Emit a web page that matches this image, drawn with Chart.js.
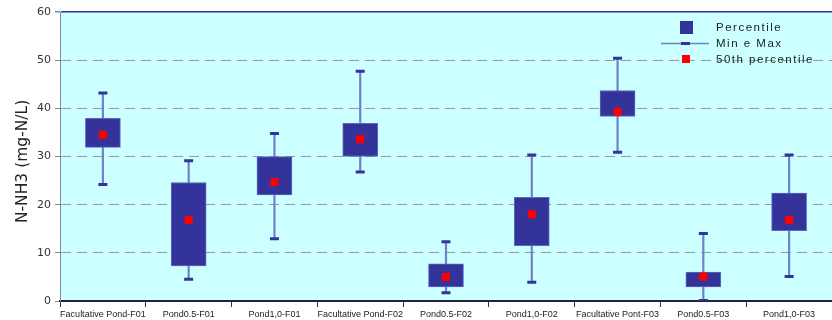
<!DOCTYPE html>
<html>
<head>
<meta charset="utf-8">
<script src="https://cdn.jsdelivr.net/npm/chart.js@4/dist/chart.umd.min.js"></script>
<style>
  html, body { margin: 0; padding: 0; background: #fff; }
  #wrap { width: 832px; height: 320px; }
</style>
</head>
<body>
<div id="wrap"><canvas id="chart"></canvas></div>
<script>
// categorie e valori
const categories = [
  'Facultative Pond-F01', 'Pond0.5-F01', 'Pond1,0-F01',
  'Facultative Pond-F02', 'Pond0.5-F02', 'Pond1,0-F02',
  'Facultative Pont-F03', 'Pond0.5-F03', 'Pond1,0-F03'
]
const minValues = [24.2, 4.5, 12.9, 26.8, 1.7, 3.9, 30.9, 0.1, 5.1]
const q1Values  = [31.9, 7.3, 22.0, 30.0, 2.9, 11.5, 38.3, 2.9, 14.6]
const medValues = [34.5, 16.8, 24.7, 33.6, 5.0, 18.0, 39.3, 5.1, 16.8]
const q3Values  = [37.9, 24.6, 30.0, 36.9, 7.7, 21.5, 43.7, 6.0, 22.4]
const maxValues = [43.2, 29.1, 34.8, 47.7, 12.3, 30.3, 50.4, 14.0, 30.3]
const yTicks = [0, 10, 20, 30, 40, 50, 60]

const BOX = '#333399'
const WHISK = '#6f80c8'
const MED = '#ff0000'

// sfondo azzurro dell'area del grafico
const plotBg = {
  id: 'plotBg',
  beforeDraw(chart) {
    const { ctx, chartArea: a } = chart
    ctx.save()
    ctx.fillStyle = '#ccffff'
    ctx.fillRect(a.left, a.top, a.right - a.left, a.bottom - a.top)
    ctx.restore()
  }
}

// legenda dentro l'area del grafico, in alto a destra
const boxLegend = {
  id: 'boxLegend',
  afterDraw(chart) {
    const { ctx } = chart
    ctx.save()
    ctx.fillStyle = BOX
    ctx.fillRect(680, 21, 13, 13)
    ctx.strokeStyle = WHISK
    ctx.lineWidth = 1.5
    ctx.beginPath(); ctx.moveTo(661, 43.5); ctx.lineTo(709, 43.5); ctx.stroke()
    ctx.fillStyle = BOX
    ctx.fillRect(681, 42, 9, 3)
    ctx.fillStyle = MED
    ctx.fillRect(682, 55, 8, 8)
    ctx.fillStyle = '#222'
    ctx.font = '11.5px "Liberation Sans"'
    ctx.letterSpacing = '1.5px'
    ctx.textBaseline = 'middle'
    ctx.fillText('Percentile', 716, 28)
    ctx.fillText('Min e Max', 716, 44)
    ctx.fillText('50th percentile', 716, 60)
    ctx.restore()
  }
}

new Chart(document.getElementById('chart'), {
  type: 'bar',
  data: {
    labels: categories,
    datasets: [
      {
        label: 'Median',
        type: 'line',
        data: medValues,
        showLine: false,
        pointStyle: 'rect',
        pointRadius: 5.7,
        pointBorderWidth: 0,
        pointBackgroundColor: MED,
        pointBorderColor: MED,
        order: 1
      },
      {
        label: 'Percentile',
        data: q1Values.map((v, i) => [v, q3Values[i]]),
        backgroundColor: BOX,
        borderColor: '#5a68c4',
        borderWidth: 1,
        borderSkipped: false,
        barThickness: 35,
        grouped: false,
        order: 2
      },
      {
        label: 'Max',
        type: 'line',
        data: maxValues,
        showLine: false,
        pointStyle: 'line',
        pointRadius: 4.5,
        pointBorderWidth: 3,
        pointBorderColor: BOX,
        order: 3
      },
      {
        label: 'Min',
        type: 'line',
        data: minValues,
        showLine: false,
        pointStyle: 'line',
        pointRadius: 4.5,
        pointBorderWidth: 3,
        pointBorderColor: BOX,
        order: 3
      },
      {
        label: 'Min e Max',
        data: minValues.map((v, i) => [v, maxValues[i]]),
        backgroundColor: WHISK,
        borderWidth: 0,
        barThickness: 1.5,
        grouped: false,
        order: 4
      }
    ]
  },
  options: {
    responsive: true,
    maintainAspectRatio: false,
    animation: false,
    layout: { autoPadding: false, padding: { top: 12, right: 0 } },
    plugins: {
      legend: { display: false },
      tooltip: { enabled: false }
    },
    scales: {
      x: {
        offset: true,
        afterFit: s => { s.height = 19 },
        grid: { offset: true, drawOnChartArea: false, drawTicks: true, tickLength: 6, color: '#333' },
        border: { color: '#222244', width: 2 },
        ticks: {
          autoSkip: false,
          maxRotation: 0,
          padding: 2,
          color: '#222',
          font: { family: '"Liberation Sans"', size: 9 }
        }
      },
      y: {
        min: 0,
        max: 60,
        afterFit: s => { s.width = 60 },
        afterBuildTicks: s => { s.ticks = yTicks.map(v => ({ value: v })) },
        grid: {
          color: c => c.tick && c.tick.value === 60 ? '#333399' : (c.tick && c.tick.value === 0 ? '#222244' : '#999999'),
          lineWidth: c => c.tick && c.tick.value === 60 ? 1.5 : 1,
          tickLength: 5,
          tickColor: '#888'
        },
        border: {
          color: '#888',
          width: 1,
          dash: c => c.tick && (c.tick.value === 60 || c.tick.value === 0) ? [] : [10, 6]
        },
        ticks: {
          padding: 4,
          color: '#333',
          font: { family: '"DejaVu Sans"', size: 11 }
        },
        title: {
          display: true,
          text: 'N-NH3 (mg-N/L)\u00a0\u00a0',
          color: '#222',
          padding: { top: 14, bottom: 0 },
          font: { family: '"DejaVu Sans"', size: 15.5 }
        }
      }
    }
  },
  plugins: [plotBg, boxLegend]
})
</script>
</body>
</html>
